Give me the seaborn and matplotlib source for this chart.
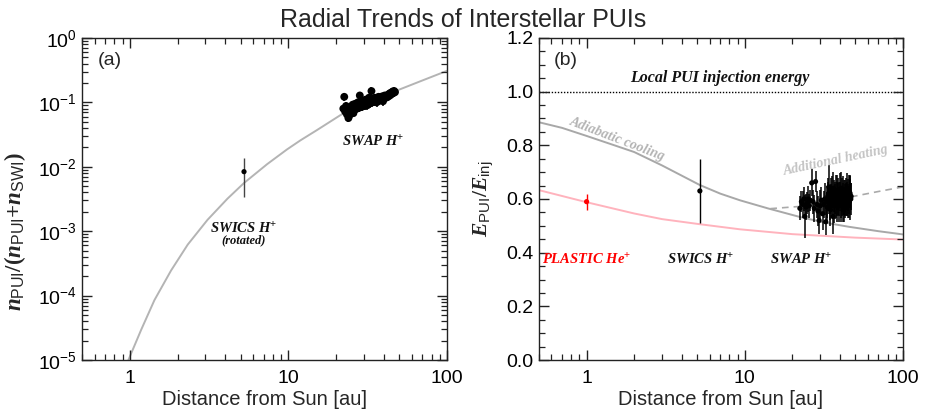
import matplotlib
matplotlib.use("Agg")
import matplotlib.pyplot as plt
import matplotlib.ticker as mticker
import seaborn as sns

# ---- panel (a): PUI density fraction ----
r_fit_a = [0.98, 1.18, 1.43, 1.82, 2.32, 3.09, 4.13, 5.25, 7.35, 9.8, 11.9, 15.1, 21.2, 30.0,
           50.0, 70.0, 100.0]
n_fit_a = [1.0e-5, 2.95e-5, 8.5e-5, 2.45e-4, 6.2e-4, 1.5e-3, 3.2e-3, 5.6e-3, 1.1e-2, 1.86e-2,
           2.57e-2, 3.7e-2, 6.3e-2, 0.100, 0.158, 0.219, 0.309]

r_swics = 5.25
n_swics = 8.4e-3
n_swics_lo = 3.4e-3
n_swics_hi = 1.35e-2

r_swap_a = [22.2, 22.5, 22.8, 23.1, 23.4, 23.7, 23.9, 24.2, 24.5, 24.8, 25.1, 25.4, 25.7, 26.0, 26.3,
            26.6, 27.0, 27.4, 27.8, 28.2, 28.6, 29.0, 29.4, 29.8, 30.2, 30.6, 31.0, 31.4, 31.8, 32.2,
            32.6, 33.0, 33.4, 33.8, 34.2, 34.6, 35.0, 35.5, 36.0, 36.5, 37.0, 37.5, 38.0, 38.5, 39.0,
            39.5, 40.0, 40.5, 41.0, 41.5, 42.0, 42.5, 43.0, 43.5, 44.0, 44.5, 45.0, 45.5, 46.0, 46.5,
            47.0]
n_swap_a = [0.080, 0.122, 0.072, 0.088, 0.065, 0.078, 0.057, 0.062, 0.070, 0.085, 0.076, 0.092, 0.068,
            0.083, 0.095, 0.078, 0.088, 0.100, 0.082, 0.128, 0.092, 0.085, 0.105, 0.095, 0.088, 0.110,
            0.098, 0.090, 0.104, 0.118, 0.096, 0.108, 0.150, 0.100, 0.112, 0.102, 0.118, 0.108, 0.100,
            0.115, 0.122, 0.106, 0.118, 0.112, 0.124, 0.104, 0.116, 0.128, 0.118, 0.126, 0.120, 0.132,
            0.125, 0.138, 0.130, 0.142, 0.136, 0.148, 0.140, 0.150, 0.144]
n_swap_relerr = 0.14

# ---- panel (b): PUI energy ratio ----
r_cool = [0.5, 0.7, 1.0, 1.5, 2.0, 3.0, 5.2, 7.0, 9.34, 14.0, 22.3, 32.0, 46.0, 70.0, 100.0]
e_cool = [0.886, 0.865, 0.835, 0.80, 0.775, 0.725, 0.652, 0.62, 0.595, 0.565, 0.533, 0.512, 0.496,
          0.48, 0.468]

r_he = [0.5, 1.0, 2.0, 3.0, 5.2, 9.34, 20.0, 50.0, 100.0]
e_he = [0.633, 0.588, 0.546, 0.525, 0.506, 0.487, 0.469, 0.456, 0.449]

r_heat = [14.5, 22.0, 30.0, 47.0, 70.0, 100.0]
e_heat = [0.564, 0.572, 0.584, 0.608, 0.628, 0.645]

r_plastic, e_plastic, e_plastic_err = 1.0, 0.59, 0.03
r_swics_b, e_swics_b, e_swics_err = 5.2, 0.63, 0.12

r_swap_b = [22.3, 22.8, 23.2, 23.6, 24.0, 24.4, 24.8, 25.2, 25.6, 26.0, 26.5, 27.0, 27.5, 28.0, 28.5,
            29.0, 29.5, 30.0, 30.5, 31.0, 31.5, 32.0, 32.5, 33.0, 33.5, 34.0, 34.5, 35.0, 35.5, 36.0,
            36.5, 37.0, 37.5, 38.0, 38.5, 39.0, 39.5, 40.0, 40.5, 41.0, 41.5, 42.0, 42.5, 43.0, 43.5,
            44.0, 44.5, 45.0, 45.5, 46.0, 46.5, 47.0,
            33.2, 33.8, 34.3, 34.8, 35.3, 35.8, 36.3, 36.8, 37.3, 37.8, 38.3, 38.8, 39.3, 39.8, 40.3,
            40.8, 41.3, 41.8, 42.3, 42.8, 43.3, 43.8, 44.3, 44.8, 45.3, 45.8, 46.3, 46.8]
e_swap_b = [0.565, 0.59, 0.58, 0.60, 0.535, 0.57, 0.585, 0.60, 0.575, 0.595, 0.66, 0.59, 0.565, 0.665,
            0.58, 0.555, 0.52, 0.575, 0.595, 0.545, 0.58, 0.60, 0.515, 0.59, 0.61, 0.645, 0.58, 0.60,
            0.625, 0.535, 0.61, 0.59, 0.63, 0.60, 0.575, 0.62, 0.60, 0.635, 0.59, 0.615, 0.60, 0.625,
            0.58, 0.61, 0.60, 0.63, 0.595, 0.615, 0.60, 0.625, 0.605, 0.61,
            0.57, 0.62, 0.595, 0.56, 0.615, 0.585, 0.64, 0.575, 0.605, 0.585, 0.625, 0.60, 0.575, 0.61,
            0.58, 0.64, 0.59, 0.575, 0.605, 0.595, 0.585, 0.62, 0.60, 0.585, 0.63, 0.59, 0.62, 0.60]
e_swap_err = [0.045, 0.04, 0.05, 0.045, 0.08, 0.05, 0.04, 0.05, 0.045, 0.04, 0.05, 0.045, 0.05, 0.04,
              0.05, 0.055, 0.05, 0.06, 0.05, 0.06, 0.05, 0.06, 0.05, 0.06, 0.055, 0.08, 0.06, 0.055,
              0.06, 0.065, 0.06, 0.065, 0.06, 0.065, 0.06, 0.06, 0.065, 0.06, 0.06, 0.065, 0.06, 0.06,
              0.065, 0.06, 0.06, 0.065, 0.06, 0.06, 0.055, 0.06, 0.085, 0.05,
              0.055, 0.06, 0.05, 0.06, 0.065, 0.055, 0.06, 0.065, 0.06, 0.055, 0.065, 0.06, 0.06, 0.055,
              0.065, 0.06, 0.055, 0.06, 0.065, 0.06, 0.055, 0.06, 0.065, 0.055, 0.06, 0.06, 0.055, 0.06]

sns.set_theme(style="ticks")
frame = "#222222"
plt.rcParams.update({
    "font.family": ["Liberation Sans", "DejaVu Sans"],
    "mathtext.fontset": "custom",
    "mathtext.rm": "Liberation Sans",
    "mathtext.it": "Liberation Serif:bold:italic",
    "mathtext.bf": "Liberation Serif:bold",
    "axes.axisbelow": False,
    "xtick.direction": "in", "ytick.direction": "in",
    "xtick.top": True, "ytick.right": True,
    "xtick.bottom": True, "ytick.left": True,
    "xtick.minor.visible": True, "ytick.minor.visible": True,
    "xtick.major.size": 7, "ytick.major.size": 7,
    "xtick.minor.size": 4, "ytick.minor.size": 4,
    "xtick.major.width": 1.0, "ytick.major.width": 1.0,
    "xtick.minor.width": 0.9, "ytick.minor.width": 0.9,
    "xtick.color": frame, "ytick.color": frame,
    "xtick.labelcolor": "black", "ytick.labelcolor": "black",
    "xtick.labelsize": 14, "ytick.labelsize": 14,
    "xtick.major.pad": 7, "ytick.major.pad": 4,
    "axes.edgecolor": frame, "axes.linewidth": 1.0,
})

serif_bi = dict(family="Liberation Serif", weight="bold", style="italic")

fig = plt.figure(figsize=(9.27, 4.15), dpi=100)
ax1 = fig.add_axes([0.0885, 0.1325, 0.3937, 0.776])
ax2 = fig.add_axes([0.5814, 0.1325, 0.3927, 0.776])
ax1.set_xscale("log")
ax1.set_yscale("log")
ax2.set_xscale("log")

# ---- (a) ----
ax1.set_ylim(1e-5, 1)
ax1.yaxis.set_major_locator(mticker.LogLocator(base=10, numticks=10))
ax1.yaxis.set_minor_locator(mticker.LogLocator(base=10, subs=range(2, 10), numticks=20))
ax1.yaxis.set_minor_formatter(mticker.NullFormatter())

sns.lineplot(x=r_fit_a, y=n_fit_a, ax=ax1, color="#b4b4b4", lw=1.4, sort=False, estimator=None)
ax1.errorbar([r_swics], [n_swics], yerr=[[n_swics - n_swics_lo], [n_swics_hi - n_swics]],
             fmt="none", ecolor="#444444", elinewidth=1.0)
sns.scatterplot(x=[r_swics], y=[n_swics], ax=ax1, color="black", s=14, edgecolor="none", zorder=4)
ax1.errorbar(r_swap_a, n_swap_a, yerr=[v * n_swap_relerr for v in n_swap_a],
             fmt="none", ecolor="black", elinewidth=1.1)
sns.scatterplot(x=r_swap_a, y=n_swap_a, ax=ax1, color="black", s=32, edgecolor="none", zorder=4)

ax1.text(0.044, 0.93, "(a)", transform=ax1.transAxes, fontsize=14, ha="left", va="center")
ax1.text(34.3, 0.0245, "SWAP H$^{+}$", fontsize=10.5, ha="center", va="center", color="#111111", **serif_bi)
ax1.text(5.25, 1.1e-3, "SWICS H$^{+}$", fontsize=10.5, ha="center", va="center", color="#111111", **serif_bi)
ax1.text(5.25, 7.2e-4, "(rotated)", fontsize=9, ha="center", va="center", color="#111111", **serif_bi)
ax1.set_ylabel(r"$n_{\rm PUI}\mathbf{/(}n_{\rm PUI}\mathbf{+}n_{\rm SWI}\mathbf{)}$", fontsize=16.5)
ax1.yaxis.set_label_coords(-0.148, 0.40)

# ---- (b) ----
ax2.set_ylim(0, 1.2)
ax2.yaxis.set_major_locator(mticker.MultipleLocator(0.2))
ax2.yaxis.set_minor_locator(mticker.MultipleLocator(0.05))
ax2.yaxis.set_major_formatter(mticker.FormatStrFormatter("%.1f"))

ax2.axhline(1.0, color="black", lw=1.0, ls=(0, (1, 1.2)))
sns.lineplot(x=r_cool, y=e_cool, ax=ax2, color="#a8a8a8", lw=1.4, sort=False, estimator=None)
sns.lineplot(x=r_he, y=e_he, ax=ax2, color="#ffb3bd", lw=1.4, sort=False, estimator=None)
sns.lineplot(x=r_heat, y=e_heat, ax=ax2, color="#aaaaaa", lw=1.2, ls=(0, (4, 3)), sort=False, estimator=None)

ax2.errorbar([r_plastic], [e_plastic], yerr=[e_plastic_err], fmt="none", ecolor="red", elinewidth=1.0)
sns.scatterplot(x=[r_plastic], y=[e_plastic], ax=ax2, color="red", s=14, edgecolor="none", zorder=4)
ax2.errorbar([r_swics_b], [e_swics_b], yerr=[e_swics_err], fmt="none", ecolor="black", elinewidth=1.0)
sns.scatterplot(x=[r_swics_b], y=[e_swics_b], ax=ax2, color="black", s=14, edgecolor="none", zorder=4)
ax2.errorbar(r_swap_b, e_swap_b, yerr=e_swap_err, fmt="none", ecolor="black", elinewidth=1.1)
sns.scatterplot(x=r_swap_b, y=e_swap_b, ax=ax2, color="black", s=14, edgecolor="none", zorder=4)

ax2.text(0.041, 0.93, "(b)", transform=ax2.transAxes, fontsize=14, ha="left", va="center")
ax2.text(7.0, 1.05, "Local PUI injection energy", fontsize=11.5, ha="center", va="center", color="#111111", **serif_bi)
ax2.text(1.57, 0.824, "Adiabatic cooling", fontsize=10, ha="center", va="center", rotation=-21,
         color="#b4b4b4", family="Liberation Serif", weight="bold", style="italic")
ax2.text(37.6, 0.745, "Additional heating", fontsize=10, ha="center", va="center", rotation=12,
         color="#c4c4c4", family="Liberation Serif", weight="bold", style="italic")
ax2.text(1.0, 0.371, "PLASTIC He$^{+}$", fontsize=10.5, ha="center", va="center", color="red", **serif_bi)
ax2.text(5.23, 0.371, "SWICS H$^{+}$", fontsize=10.5, ha="center", va="center", color="#111111", **serif_bi)
ax2.text(22.8, 0.371, "SWAP H$^{+}$", fontsize=10.5, ha="center", va="center", color="#111111", **serif_bi)
ax2.set_ylabel(r"$E_{\rm PUI}\mathbf{/}E_{\rm inj}$", fontsize=15.5)
ax2.yaxis.set_label_coords(-0.121, 0.5)

for ax in (ax1, ax2):
    ax.set_xlim(0.5, 100)
    ax.xaxis.set_major_formatter(mticker.FuncFormatter(lambda v, p: f"{v:g}"))
    ax.set_xlabel("Distance from Sun [au]", fontsize=14.5, labelpad=2)
    ax.set_axisbelow(False)
    ax.tick_params(which="both", direction="in", top=True, right=True, bottom=True, left=True)

fig.suptitle("Radial Trends of Interstellar PUIs", y=0.952, fontsize=18, va="center")

fig.savefig("out.png", dpi=100)
